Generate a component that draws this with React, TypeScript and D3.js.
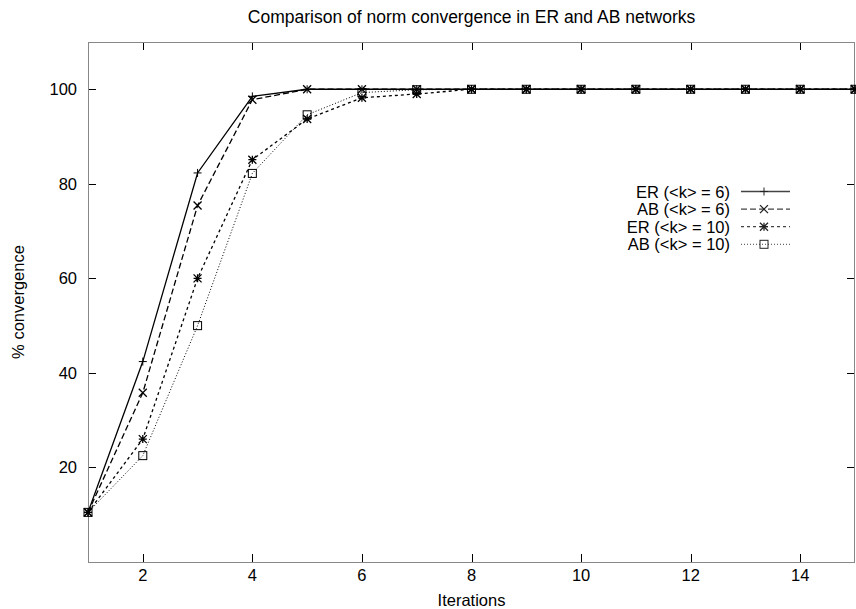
import React, { useEffect, useRef } from "react";
import * as d3 from "d3";

const iterations = [1, 2, 3, 4, 5, 6, 7, 8, 9, 10, 11, 12, 13, 14, 15];
const er6 = [10.5, 42.4, 82.3, 98.5, 100, 100, 100, 100, 100, 100, 100, 100, 100, 100, 100];
const ab6 = [10.5, 35.8, 75.4, 97.8, 100, 100, 100, 100, 100, 100, 100, 100, 100, 100, 100];
const er10 = [10.5, 26, 60, 85.1, 93.7, 98.2, 99, 100, 100, 100, 100, 100, 100, 100, 100];
const ab10 = [10.5, 22.5, 50, 82.2, 94.6, 99.3, 99.9, 100, 100, 100, 100, 100, 100, 100, 100];
const seriesNames = ["ER (<k> = 6)", "AB (<k> = 6)", "ER (<k> = 10)", "AB (<k> = 10)"];
const xTicks = [2, 4, 6, 8, 10, 12, 14];
const yTicks = [20, 40, 60, 80, 100];

const W = 856;
const H = 609;
const margin = { top: 42, right: 1, bottom: 47, left: 88 };
const font = "'Liberation Sans', Arial, sans-serif";
const fs = 16.5;

const App = () => {
  const ref = useRef<SVGSVGElement>(null);

  useEffect(() => {
    const svg = d3.select(ref.current);
    svg.selectAll("*").remove();

    const x = d3.scaleLinear().domain([1, 15]).range([margin.left, W - margin.right]);
    const y = d3.scaleLinear().domain([0, 110]).range([H - margin.bottom, margin.top]);

    svg.append("rect").attr("width", W).attr("height", H).attr("fill", "white");

    // ticks (inward, mirrored)
    const tk = svg.append("g").attr("stroke", "#000").attr("stroke-width", 1);
    xTicks.forEach((t) => {
      const px = Math.round(x(t)) + 0.5;
      tk.append("line").attr("x1", px).attr("x2", px).attr("y1", y(0)).attr("y2", y(0) - 8);
      tk.append("line").attr("x1", px).attr("x2", px).attr("y1", y(110)).attr("y2", y(110) + 8);
    });
    yTicks.forEach((t) => {
      const py = Math.round(y(t)) + 0.5;
      tk.append("line").attr("x1", x(1)).attr("x2", x(1) + 8).attr("y1", py).attr("y2", py);
      tk.append("line").attr("x1", x(15)).attr("x2", x(15) - 8).attr("y1", py).attr("y2", py);
    });

    // frame
    svg
      .append("rect")
      .attr("x", x(1) + 0.5)
      .attr("y", y(110) + 0.5)
      .attr("width", x(15) - x(1) - 1)
      .attr("height", y(0) - y(110))
      .attr("fill", "none")
      .attr("stroke", "#888")
      .attr("stroke-width", 1);

    // tick labels
    const lab = svg.append("g").attr("font-family", font).attr("font-size", fs).attr("fill", "#000");
    xTicks.forEach((t) => {
      lab.append("text").attr("x", x(t)).attr("y", 581).attr("text-anchor", "middle").text(t);
    });
    yTicks.forEach((t) => {
      lab.append("text").attr("x", 77).attr("y", y(t) + 6).attr("text-anchor", "end").text(t);
    });

    lab
      .append("text")
      .attr("x", (x(1) + x(15)) / 2)
      .attr("y", 23)
      .attr("font-size", 17.5)
      .attr("text-anchor", "middle")
      .text("Comparison of norm convergence in ER and AB networks");
    lab
      .append("text")
      .attr("x", (x(1) + x(15)) / 2)
      .attr("y", 606)
      .attr("text-anchor", "middle")
      .text("Iterations");
    lab
      .append("text")
      .attr("transform", `translate(24, ${(y(0) + y(110)) / 2}) rotate(-90)`)
      .attr("text-anchor", "middle")
      .text("% convergence");

    const data = [er6, ab6, er10, ab10];
    const dashes = ["none", "6,3", "3,3", "1,2"];
    const widths = [1.3, 1.3, 1.3, 1];

    const drawMarker = (g: any, kind: number, cx: number, cy: number, color: string) => {
      const s = 4;
      if (kind === 0) {
        g.append("path").attr("d", `M${cx - s},${cy}H${cx + s}M${cx},${cy - s}V${cy + s}`).attr("stroke", color).attr("stroke-width", 1);
      } else if (kind === 1) {
        g.append("path").attr("d", `M${cx - s},${cy - s}L${cx + s},${cy + s}M${cx - s},${cy + s}L${cx + s},${cy - s}`).attr("stroke", color).attr("stroke-width", 1.3);
      } else if (kind === 2) {
        g.append("path")
          .attr("d", `M${cx - s},${cy - s}L${cx + s},${cy + s}M${cx - s},${cy + s}L${cx + s},${cy - s}M${cx - s},${cy}H${cx + s}M${cx},${cy - s}V${cy + s}`)
          .attr("stroke", color)
          .attr("stroke-width", 1.3);
      } else {
        g.append("rect").attr("x", cx - s).attr("y", cy - s).attr("width", 2 * s).attr("height", 2 * s).attr("fill", "none").attr("stroke", color).attr("stroke-width", 1);
      }
    };

    const line = d3
      .line<number>()
      .x((_, i) => x(iterations[i]))
      .y((d) => y(d));

    data.forEach((vals, k) => {
      const g = svg.append("g");
      g.append("path")
        .attr("d", line(vals))
        .attr("fill", "none")
        .attr("stroke", "#000")
        .attr("stroke-width", widths[k])
        .attr("stroke-dasharray", dashes[k]);
      vals.forEach((v, i) => drawMarker(g, k, x(iterations[i]), y(v), "#000"));
    });

    // legend
    const leg = svg.append("g");
    seriesNames.forEach((name, k) => {
      const ly = 191.5 + k * 17.6;
      leg.append("text")
        .attr("x", 730)
        .attr("y", ly + 6)
        .attr("text-anchor", "end")
        .attr("font-family", font)
        .attr("font-size", fs)
        .text(name);
      leg.append("line")
        .attr("x1", 741)
        .attr("x2", 790)
        .attr("y1", ly)
        .attr("y2", ly)
        .attr("stroke", "#444")
        .attr("stroke-width", widths[k])
        .attr("stroke-dasharray", dashes[k]);
      drawMarker(leg, k, 764, ly, "#222");
    });
  }, []);

  return <svg ref={ref} width={W} height={H} style={{ display: "block", position: "absolute", left: 0, top: 0 }} />;
};

export default App;
